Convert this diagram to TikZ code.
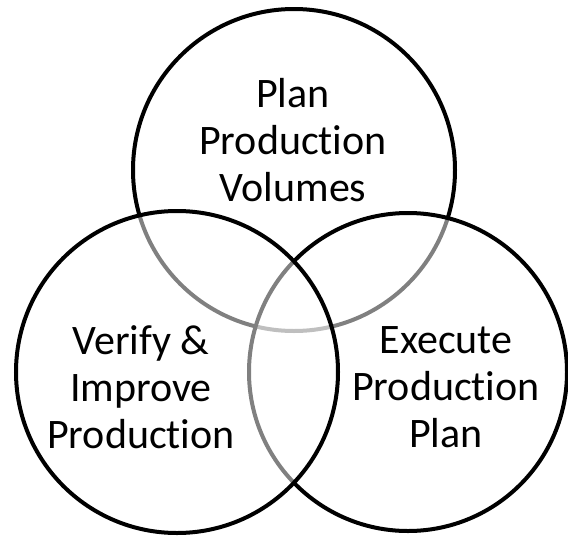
\documentclass[tikz,border=0pt]{standalone}
\usepackage{fontspec}
\setmainfont{Carlito}[Ligatures=NoCommon]
\usepackage{tikz}
\usetikzlibrary{calc}

\tikzset{
    ring/.style={line width=4pt, draw=black, fill=white, fill opacity=0.5},
    label/.style={align=center, text opacity=1, font=\fontsize{42}{47}\selectfont}
}

\begin{document}
\begin{tikzpicture}[x=1pt, y=-1pt]
    \useasboundingbox (0,0) rectangle (568,536);
    % Circle centres
    \coordinate (Top) at (294,170);
    \coordinate (Right) at (408,372);
    \coordinate (Left) at (177,372);
    
    % Circles: top first, then right, then left
    \draw[ring] (Top) circle (161);
    \draw[ring] (Right) circle (159);
    \draw[ring] (Left) circle (161);
    
    % Labels
    \node[label] (plan) at (293,140) {Plan\\Production\\Volumes};
    \node[label] (verify) at (141,387) {Verify \&\\Improve\\Production};
    \node[label] (execute) at (446,387) {Execute\\Production\\Plan};
\end{tikzpicture}
\end{document}
